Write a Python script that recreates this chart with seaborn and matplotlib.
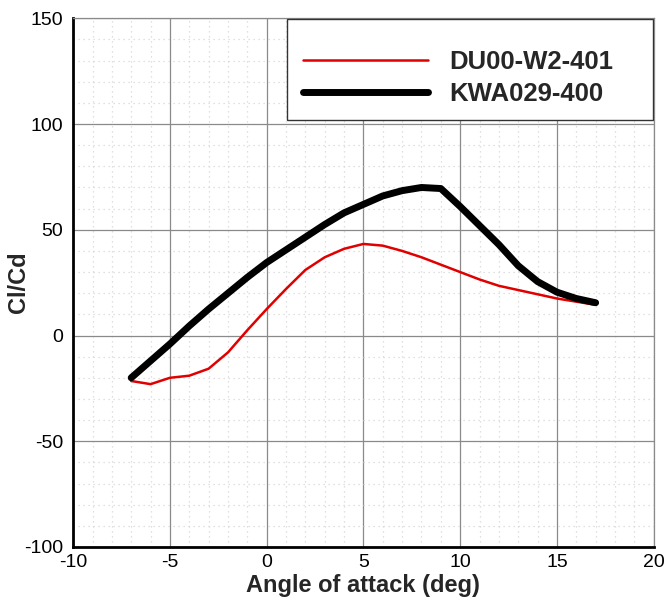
import numpy as np
import pandas as pd
import matplotlib
matplotlib.use("Agg")
import matplotlib.pyplot as plt
from matplotlib.patches import Rectangle
from matplotlib.ticker import MultipleLocator
import seaborn as sns

# Lift-to-drag ratio versus angle of attack for two airfoils
alpha = [-7, -6, -5, -4, -3, -2, -1, 0, 1, 2, 3, 4, 5, 6, 7, 8, 9, 10, 11, 12, 13, 14, 15, 16, 17]
clcd_du00 = [-21.5, -23.0, -20.0, -19.0, -15.7, -8.0, 2.5, 12.5, 22.0, 31.0, 37.0, 41.0, 43.3,
             42.5, 40.0, 37.0, 33.5, 30.0, 26.5, 23.5, 21.5, 19.5, 17.5, 16.0, 14.5]
clcd_kwa = [-20.0, -12.0, -4.0, 4.5, 12.5, 20.0, 27.5, 34.5, 40.5, 46.5, 52.5, 58.0, 62.0,
            66.0, 68.5, 70.0, 69.5, 61.0, 52.0, 43.0, 33.0, 25.5, 20.5, 17.5, 15.5]
names = ["DU00-W2-401", "KWA029-400"]

df = pd.concat([
    pd.DataFrame({"alpha": alpha, "clcd": clcd_du00, "airfoil": names[0]}),
    pd.DataFrame({"alpha": alpha, "clcd": clcd_kwa, "airfoil": names[1]}),
], ignore_index=True)

sns.set_style("white")
plt.rcParams["font.family"] = ["Liberation Sans", "DejaVu Sans"]
plt.rcParams["axes.unicode_minus"] = False

fig = plt.figure(figsize=(6.65, 6.04), dpi=100)
ax = fig.add_axes([0.110, 0.0944, 0.873, 0.8753])

sns.lineplot(data=df, x="alpha", y="clcd", hue="airfoil", size="airfoil",
             hue_order=names, size_order=names,
             palette={names[0]: "#e00000", names[1]: "black"},
             sizes={names[0]: 1.8, names[1]: 5.0},
             sort=False, ax=ax, legend=True, zorder=5)

ax.set_xlim(-10, 20)
ax.set_ylim(-100, 150)
ax.xaxis.set_major_locator(MultipleLocator(5))
ax.xaxis.set_minor_locator(MultipleLocator(1))
ax.yaxis.set_major_locator(MultipleLocator(50))
ax.yaxis.set_minor_locator(MultipleLocator(10))

ax.grid(which="major", color="#8a8a8a", linewidth=0.9, linestyle="-", zorder=0)
ax.grid(which="minor", color="#d6d6d6", linewidth=0.9, linestyle=(0, (1, 3)), zorder=0)
ax.set_axisbelow(True)

for side in ("left", "bottom"):
    ax.spines[side].set_color("black")
    ax.spines[side].set_linewidth(2.0)
for side in ("top", "right"):
    ax.spines[side].set_color("#8a8a8a")
    ax.spines[side].set_linewidth(0.9)

ax.tick_params(axis="both", which="both", direction="in", top=False, right=False,
               colors="black", labelsize=14)
ax.tick_params(axis="y", which="major", length=10, width=2.0, pad=7)
ax.tick_params(axis="y", which="minor", length=6, width=1.2)
ax.tick_params(axis="x", which="major", length=11, width=2.0, pad=5)
ax.tick_params(axis="x", which="minor", length=6, width=1.2)

ax.set_xlabel("Angle of attack (deg)", fontsize=17, fontweight="bold", labelpad=2)
ax.set_ylabel("Cl/Cd", fontsize=17, fontweight="bold")
ax.yaxis.set_label_coords(-0.075, 0.5)

# Legend without its own frame, boxed by a rectangle in the upper-right corner
handles, labels = ax.get_legend_handles_labels()
leg = ax.legend(handles, labels, loc="upper left", bbox_to_anchor=(0.396, 0.940),
                frameon=False, prop={"weight": "bold", "size": 18.5},
                handlelength=4.85, handletextpad=0.85, labelspacing=0.3,
                borderpad=0, borderaxespad=0)
leg.set_zorder(10)
ax.add_patch(Rectangle((0.368, 0.808), 0.631, 0.191, transform=ax.transAxes,
                       facecolor="white", edgecolor="#333333", linewidth=1.0, zorder=9))

fig.savefig("out.png", dpi=100)
